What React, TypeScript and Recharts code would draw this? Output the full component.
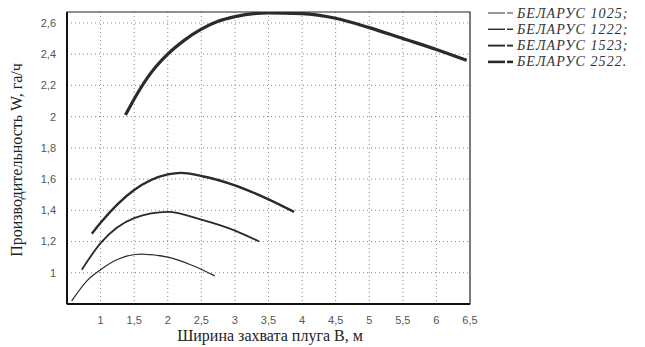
import React from "react";
import {
  LineChart,
  Line,
  XAxis,
  YAxis,
  CartesianGrid,
  ReferenceArea,
  Legend,
  Label,
} from "recharts";

const xTicks = [1, 1.5, 2, 2.5, 3, 3.5, 4, 4.5, 5, 5.5, 6, 6.5];
const yTicks = [1, 1.2, 1.4, 1.6, 1.8, 2, 2.2, 2.4, 2.6];

const series1025 = [
  { x: 0.57, y: 0.82 },
  { x: 0.8, y: 0.95 },
  { x: 1.0, y: 1.02 },
  { x: 1.25, y: 1.085 },
  { x: 1.6, y: 1.12 },
  { x: 2.0, y: 1.1 },
  { x: 2.35, y: 1.05 },
  { x: 2.7, y: 0.98 },
];
const series1222 = [
  { x: 0.72, y: 1.02 },
  { x: 1.0, y: 1.19 },
  { x: 1.5, y: 1.35 },
  { x: 2.0, y: 1.39 },
  { x: 2.5, y: 1.34 },
  { x: 3.0, y: 1.27 },
  { x: 3.36, y: 1.2 },
];
const series1523 = [
  { x: 0.87, y: 1.25 },
  { x: 1.0, y: 1.32 },
  { x: 1.5, y: 1.53 },
  { x: 2.0, y: 1.63 },
  { x: 2.2, y: 1.64 },
  { x: 2.5, y: 1.62 },
  { x: 3.0, y: 1.56 },
  { x: 3.5, y: 1.47 },
  { x: 3.88, y: 1.39 },
];
const series2522 = [
  { x: 1.37, y: 2.01 },
  { x: 1.55, y: 2.15 },
  { x: 1.75, y: 2.28 },
  { x: 2.0, y: 2.4 },
  { x: 2.25, y: 2.49 },
  { x: 2.5, y: 2.56 },
  { x: 2.75, y: 2.61 },
  { x: 3.0, y: 2.64 },
  { x: 3.5, y: 2.665 },
  { x: 4.0, y: 2.66 },
  { x: 4.5, y: 2.63 },
  { x: 5.0, y: 2.57 },
  { x: 5.5, y: 2.5 },
  { x: 6.0, y: 2.43 },
  { x: 6.45, y: 2.36 },
];

const seriesNames = ["БЕЛАРУС 1025;", "БЕЛАРУС 1222;", "БЕЛАРУС 1523;", "БЕЛАРУС 2522."];
const seriesWidths = [1.2, 1.8, 2.4, 3.2];
const lineColor = "#2a2a2a";

const fmt = (v: number) => String(v).replace(".", ",");

const LegendContent = () => (
  <svg width={160} height={70}>
    {seriesNames.map((name, i) => {
      const y = 9 + i * 16.3;
      return (
        <g key={name}>
          <line x1={2} x2={19} y1={y} y2={y} stroke={lineColor} strokeWidth={seriesWidths[i] * 0.8} />
          <line x1={21} x2={27} y1={y} y2={y} stroke={lineColor} strokeWidth={seriesWidths[i] * 0.8} />
          <text
            x={31}
            y={y + 4.5}
            fontFamily="'Liberation Serif', 'DejaVu Serif', serif"
            fontStyle="italic"
            fontSize={14}
            letterSpacing={1.1}
            fill="#333"
          >
            {name}
          </text>
        </g>
      );
    })}
  </svg>
);

export default function App() {
  return (
    <div style={{ position: "absolute", left: 0, top: 0, background: "#fff" }}>
      <LineChart
        width={645}
        height={347}
        margin={{ top: 12, right: 175, bottom: 13, left: 0 }}
      >
        <CartesianGrid
          stroke="#888"
          strokeDasharray="1 3"
          verticalValues={[1, 1.5, 2, 2.5, 3, 3.5, 4, 4.5, 5, 5.5, 6]}
          horizontalValues={yTicks}
        />
        <XAxis
          type="number"
          dataKey="x"
          domain={[0.5, 6.5]}
          ticks={xTicks}
          tickFormatter={fmt}
          allowDataOverflow
          height={30}
          tickLine={false}
          axisLine={{ stroke: "#111", strokeWidth: 2 }}
          tickMargin={6}
          tick={{ fontFamily: "'Liberation Sans', Arial, sans-serif", fontSize: 11, fill: "#555" }}
        >
          <Label
            content={() => (
              <text
                x={270}
                y={341}
                textAnchor="middle"
                fontFamily="'Liberation Serif', 'DejaVu Serif', serif"
                fontSize={16}
                fill="#222"
              >
                Ширина захвата плуга B, м
              </text>
            )}
          />
        </XAxis>
        <YAxis
          type="number"
          domain={[0.8, 2.67]}
          ticks={yTicks}
          tickFormatter={fmt}
          allowDataOverflow
          width={67}
          tickLine={false}
          axisLine={{ stroke: "#111", strokeWidth: 2 }}
          tickMargin={5}
          tick={{ fontFamily: "'Liberation Sans', Arial, sans-serif", fontSize: 11, fill: "#555" }}
        >
          <Label
            content={() => (
              <text
                x={22}
                y={160}
                transform="rotate(-90 22 160)"
                textAnchor="middle"
                fontFamily="'Liberation Serif', 'DejaVu Serif', serif"
                fontSize={16}
                fill="#222"
              >
                Производительность W, га/ч
              </text>
            )}
          />
        </YAxis>
        <ReferenceArea
          x1={0.5}
          x2={6.5}
          y1={0.8}
          y2={2.67}
          fill="none"
          stroke="#222"
          strokeWidth={1.2}
          ifOverflow="visible"
        />
        <Line data={series1025} dataKey="y" name={seriesNames[0]} type="monotone" stroke={lineColor} strokeWidth={seriesWidths[0]} dot={false} isAnimationActive={false} />
        <Line data={series1222} dataKey="y" name={seriesNames[1]} type="monotone" stroke={lineColor} strokeWidth={seriesWidths[1]} dot={false} isAnimationActive={false} />
        <Line data={series1523} dataKey="y" name={seriesNames[2]} type="monotone" stroke={lineColor} strokeWidth={seriesWidths[2]} dot={false} isAnimationActive={false} />
        <Line data={series2522} dataKey="y" name={seriesNames[3]} type="monotone" stroke={lineColor} strokeWidth={seriesWidths[3]} dot={false} isAnimationActive={false} />
        <Legend
          layout="vertical"
          align="center"
          verticalAlign="middle"
          content={LegendContent}
          wrapperStyle={{ left: 486, top: 4, width: 160, height: 70 }}
        />
      </LineChart>
    </div>
  );
}
